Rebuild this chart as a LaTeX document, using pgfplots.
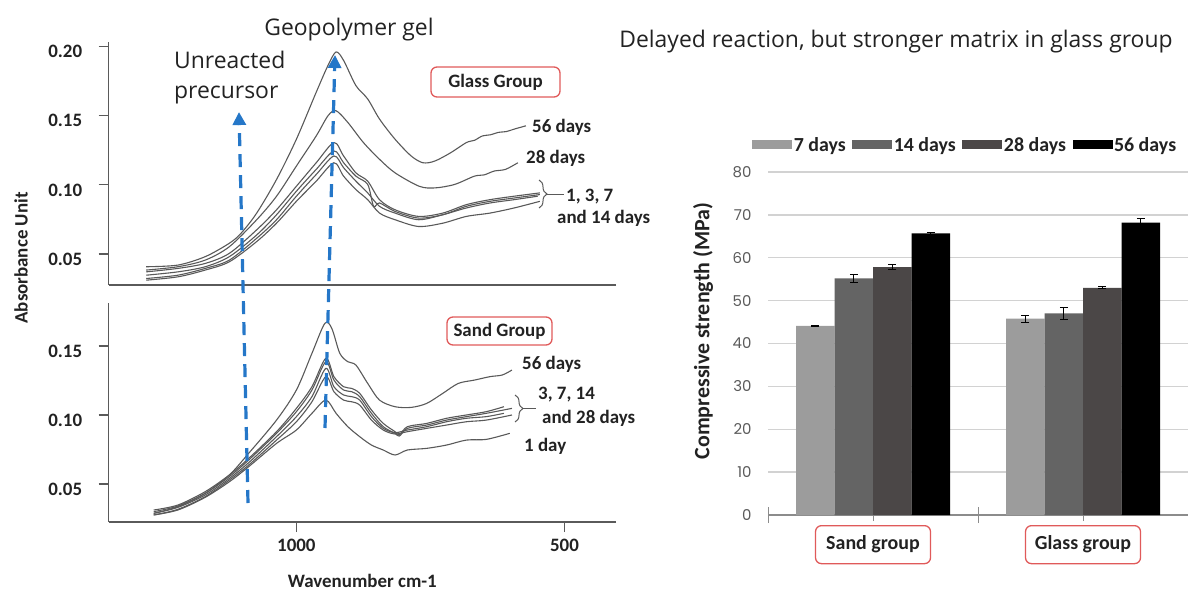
\documentclass[border=0pt]{standalone}
\usepackage{fontspec}
\setmainfont{Open Sans}
\newfontfamily\cb{Carlito}
\newfontfamily\pop{Poppins}
\usepackage{pgfplots}
\usepackage{pgfplotstable}
\pgfplotsset{compat=1.18}
\usetikzlibrary{arrows.meta,decorations.pathreplacing}

\newcommand\fcb[1]{\fontsize{#1}{#1}\selectfont\cb\bfseries}
\newcommand\fos[1]{\fontsize{#1}{#1}\selectfont}

\definecolor{curvegray}{HTML}{595959}
\definecolor{axgray}{HTML}{5A5A5A}
\definecolor{axgray2}{HTML}{8C8C8C}
\definecolor{arrowblue}{HTML}{2577C8}
\definecolor{boxred}{HTML}{E05A5A}
\definecolor{gridgray}{HTML}{D2D2D2}
\definecolor{ticklab}{HTML}{5A5A5A}
\definecolor{bar7}{HTML}{9C9C9C}
\definecolor{bar14}{HTML}{646464}
\definecolor{bar28}{HTML}{4B4747}
\definecolor{txt}{HTML}{222222}

% compressive strength (MPa): 0 = sand group, 1 = glass group
\pgfplotstableread{
x y e
0 44.1 0.2
1 45.8 0.8
}\tseven
\pgfplotstableread{
x y e
0 55.2 1.0
1 47.0 1.3
}\tfourteen
\pgfplotstableread{
x y e
0 57.8 0.6
1 53.0 0.2
}\ttwentyeight
\pgfplotstableread{
x y e
0 65.7 0.2
1 68.2 1.0
}\tfiftysix

\pgfplotsset{
  ftir/.style={
    anchor=south west, scale only axis, width=507.3bp,
    xmin=404, xmax=1350, x dir=reverse,
    axis x line*=bottom, axis y line*=left,
    axis line style={-, draw=axgray, line width=1.5bp},
    tick align=outside, major tick length=10bp,
    tick style={axgray, line width=1.2bp},
    yticklabel style={font=\fcb{19}, text=txt, yshift=-5bp, xshift=-13bp},
    xticklabel style={font=\fcb{19}, text=txt, yshift=-4bp},
    clip=false,
  },
  fc/.style={curvegray, line width=1.1bp, mark=none, line join=round, smooth, tension=0.5},
}

\begin{document}
\begin{tikzpicture}
\useasboundingbox (0,0) rectangle (1198bp,-591bp);

% ---------- FTIR, glass group ----------
\begin{axis}[ftir, at={(108.7bp,-285bp)}, height=243bp,
  ymin=0.0276, ymax=0.2033, xtick=\empty,
  ytick={0.05,0.10,0.15,0.20}, yticklabels={0.05,0.10,0.15,0.20}]
% 56 days
\addplot[fc] coordinates {(1280,0.0408) (1221,0.0420) (1170,0.0481) (1125,0.0578) (1103,0.0651) (1074,0.0796) (1037,0.1039) (1000,0.1330) (963,0.1670) (941,0.1864) (926,0.1961) (912,0.1900) (889,0.1718) (867,0.1621) (845,0.1476) (816,0.1330) (786,0.1209) (764,0.1160) (742,0.1172) (712,0.1233) (683,0.1306) (668,0.1322) (653,0.1354) (638,0.1362) (624,0.1379) (608,0.1386) (594,0.1403) (572,0.1427)};
% 28 days
\addplot[fc] coordinates {(1280,0.0384) (1221,0.0408) (1170,0.0456) (1125,0.0553) (1074,0.0748) (1037,0.0918) (1000,0.1136) (963,0.1354) (941,0.1500) (926,0.1536) (904,0.1451) (875,0.1306) (845,0.1185) (816,0.1087) (771,0.0990) (742,0.0978) (705,0.1003) (668,0.1063) (650,0.1072) (631,0.1100) (610,0.1112) (587,0.1160)};
% 1, 3, 7 and 14 days
\addplot[fc] coordinates {(1280,0.0371) (1221,0.0396) (1170,0.0432) (1125,0.0505) (1074,0.0675) (1037,0.0820) (1000,0.0990) (963,0.1160) (930,0.1306) (912,0.1209) (889,0.1087) (867,0.1027) (845,0.0893) (816,0.0820) (772,0.0772) (727,0.0796) (683,0.0857) (639,0.0893) (594,0.0918) (546,0.0942)};
\addplot[fc] coordinates {(1280,0.0347) (1221,0.0371) (1170,0.0408) (1125,0.0481) (1074,0.0638) (1037,0.0784) (1000,0.0954) (963,0.1112) (930,0.1245) (912,0.1160) (889,0.1063) (867,0.1003) (856,0.0845) (845,0.0869) (816,0.0808) (772,0.0760) (727,0.0784) (683,0.0845) (639,0.0881) (594,0.0905) (546,0.0930)};
\addplot[fc] coordinates {(1280,0.0323) (1221,0.0347) (1170,0.0396) (1125,0.0456) (1074,0.0614) (1037,0.0748) (1000,0.0918) (963,0.1075) (930,0.1209) (912,0.1124) (889,0.1027) (867,0.0942) (845,0.0845) (816,0.0796) (772,0.0748) (727,0.0784) (683,0.0833) (639,0.0869) (594,0.0893) (550,0.0918)};
\addplot[fc] coordinates {(1280,0.0311) (1221,0.0335) (1170,0.0384) (1125,0.0444) (1074,0.0590) (1037,0.0723) (1000,0.0881) (963,0.1027) (930,0.1160) (912,0.1063) (889,0.0966) (867,0.0893) (845,0.0796) (816,0.0748) (772,0.0699) (727,0.0723) (683,0.0772) (639,0.0796) (594,0.0833) (546,0.0881)};
\end{axis}

% ---------- FTIR, sand group ----------
\begin{axis}[ftir, at={(108.7bp,-522bp)}, height=219bp,
  ymin=0.0224, ymax=0.1812,
  xtick={1000,500}, xticklabels={1000,500},
  ytick={0.05,0.10,0.15}, yticklabels={0.05,0.10,0.15},
  xlabel={Wavenumber cm-1},
  xlabel style={font=\fcb{19}, text=txt, at={(axis description cs:0.5,0)}, anchor=center, yshift=-59bp}]
% 56 days
\addplot[fc] coordinates {(1266,0.0287) (1221,0.0335) (1170,0.0432) (1125,0.0565) (1089,0.0722) (1037,0.0963) (1000,0.1181) (971,0.1447) (947,0.1664) (934,0.1628) (919,0.1447) (904,0.1386) (889,0.1362) (867,0.1229) (845,0.1108) (816,0.1060) (786,0.1055) (757,0.1084) (727,0.1157) (698,0.1229) (668,0.1253) (639,0.1278) (616,0.1290) (598,0.1326)};
% 3, 7, 14 and 28 days
\addplot[fc] coordinates {(1266,0.0311) (1221,0.0347) (1170,0.0444) (1125,0.0565) (1089,0.0685) (1037,0.0879) (1000,0.1048) (971,0.1205) (945,0.1411) (930,0.1278) (912,0.1205) (897,0.1193) (882,0.1157) (860,0.1036) (838,0.0939) (816,0.0879) (808,0.0855) (793,0.0915) (757,0.0939) (720,0.0976) (683,0.1000) (646,0.1024) (613,0.1060)};
\addplot[fc] coordinates {(1266,0.0299) (1221,0.0340) (1170,0.0432) (1125,0.0553) (1089,0.0673) (1037,0.0867) (1000,0.1024) (971,0.1181) (945,0.1386) (930,0.1253) (912,0.1181) (897,0.1169) (882,0.1133) (860,0.1012) (838,0.0915) (816,0.0867) (808,0.0847) (793,0.0903) (757,0.0927) (720,0.0963) (683,0.0988) (646,0.1012) (598,0.1048)};
\addplot[fc] coordinates {(1266,0.0287) (1221,0.0330) (1170,0.0420) (1125,0.0540) (1089,0.0654) (1037,0.0843) (1000,0.0988) (971,0.1133) (945,0.1338) (930,0.1205) (912,0.1145) (897,0.1133) (882,0.1108) (860,0.0988) (838,0.0903) (816,0.0872) (793,0.0891) (757,0.0915) (720,0.0951) (683,0.0976) (646,0.0988) (613,0.1012)};
\addplot[fc] coordinates {(1266,0.0275) (1221,0.0316) (1170,0.0408) (1125,0.0528) (1089,0.0637) (1037,0.0818) (1000,0.0951) (971,0.1096) (945,0.1278) (930,0.1169) (912,0.1108) (897,0.1096) (882,0.1072) (860,0.0963) (838,0.0891) (816,0.0862) (793,0.0879) (757,0.0903) (720,0.0927) (683,0.0951) (646,0.0963) (598,0.1000)};
% 1 day
\addplot[fc] coordinates {(1266,0.0275) (1221,0.0311) (1170,0.0403) (1125,0.0516) (1089,0.0625) (1037,0.0794) (1000,0.0891) (971,0.1012) (945,0.1108) (926,0.1012) (904,0.0915) (882,0.0843) (860,0.0782) (838,0.0746) (816,0.0710) (793,0.0746) (757,0.0758) (720,0.0782) (683,0.0818) (646,0.0823) (602,0.0867)};
\end{axis}

% ---------- compressive strength ----------
\begin{axis}[at={(768bp,-515bp)}, anchor=south west, scale only axis,
  width=420bp, height=343bp,
  xmin=-0.5, xmax=1.5, ymin=0, ymax=80,
  ybar=0pt, bar width=38.5bp,
  ytick={0,10,...,80}, yticklabels={0,10,20,30,40,50,60,70,80},
  yticklabel style={font=\pop\fos{15}, text=ticklab, xshift=-5bp},
  ymajorgrids, grid style={gridgray, line width=1.4bp},
  axis x line*=bottom, axis y line*=left,
  x axis line style={-, draw=axgray2, line width=1.5bp},
  y axis line style={draw=none}, ytick style={draw=none},
  xtick={-0.5,0.5}, xticklabels={,},
  xtick style={axgray2, line width=1bp},
  tick align=center, major tick length=16bp,
  extra x ticks={0,1}, extra x tick labels={Sand group,Glass group},
  extra x tick style={tick align=outside, major tick length=6bp,
    xticklabel style={font=\fcb{20}, text=txt, draw=boxred, rounded corners=6bp,
      line width=1.3bp, minimum width=115bp, minimum height=38bp, inner sep=0pt,
      yshift=-4bp}},
  legend columns=4,
  legend style={draw=none, fill=none, at={(axis description cs:-0.038,1.079)},
    anchor=west, font=\fcb{20}, inner sep=0pt, nodes={inner sep=1.5bp, text=txt},
    /tikz/every even column/.append style={column sep=5bp}},
  legend image code/.code={\fill[#1] (0bp,-4.5bp) rectangle (40bp,4.5bp);},
  error bars/error bar style={black, line width=0.9bp},
  error bars/error mark options={black, rotate=90, mark size=4bp, line width=0.9bp},
  ]
\addplot[fill=bar7, draw=none, error bars/.cd, y dir=both, y explicit] table[x=x, y=y, y error=e] {\tseven};
\addplot[fill=bar14, draw=none, error bars/.cd, y dir=both, y explicit] table[x=x, y=y, y error=e] {\tfourteen};
\addplot[fill=bar28, draw=none, error bars/.cd, y dir=both, y explicit] table[x=x, y=y, y error=e] {\ttwentyeight};
\addplot[fill=black, draw=none, error bars/.cd, y dir=both, y explicit] table[x=x, y=y, y error=e] {\tfiftysix};
\legend{7 days, 14 days, 28 days, 56 days}
\end{axis}

% ---------- labels and annotations ----------
\node[rotate=90, font=\fcb{19}, text=txt] at (21bp,-258bp) {Absorbance Unit};
\node[rotate=90, font=\fcb{22}, text=txt] at (703bp,-331bp) {Compressive strength (MPa)};

\node[anchor=base, inner sep=0pt, font=\fos{23}, text=txt] at (349bp,-35bp) {Geopolymer gel};
\node[anchor=base west, inner sep=0pt, font=\fos{23}, text=txt] at (174bp,-68bp) {Unreacted};
\node[anchor=base west, inner sep=0pt, font=\fos{23}, text=txt] at (174bp,-98bp) {precursor};
\node[anchor=base, inner sep=0pt, font=\fos{23}, text=txt] at (896bp,-47bp) {Delayed reaction, but stronger matrix in glass group};

\node[draw=boxred, rounded corners=6bp, line width=1.3bp, minimum width=129bp, minimum height=30bp, inner sep=0pt, font=\fcb{19}, text=txt] at (495.5bp,-82bp) {Glass Group};
\node[draw=boxred, rounded corners=6bp, line width=1.3bp, minimum width=105bp, minimum height=28bp, inner sep=0pt, font=\fcb{19}, text=txt] at (499.5bp,-331bp) {Sand Group};

\begin{scope}[every node/.style={anchor=base west, inner sep=0pt, font=\fcb{19}, text=txt}]
\node at (532bp,-132bp) {56 days};
\node at (526bp,-163bp) {28 days};
\node at (566bp,-201bp) {1, 3, 7};
\node at (557bp,-223bp) {and 14 days};
\node at (522bp,-369bp) {56 days};
\node at (538bp,-399bp) {3, 7, 14};
\node at (542bp,-423bp) {and 28 days};
\node at (524bp,-451bp) {1 day};
\end{scope}

\draw[curvegray, line width=1bp, decorate, decoration={brace, amplitude=8bp}] (539bp,-180bp) -- (539bp,-208bp);
\draw[curvegray, line width=1bp] (547bp,-194bp) -- (564bp,-194bp);
\draw[curvegray, line width=1bp, decorate, decoration={brace, amplitude=8bp}] (515bp,-395bp) -- (515bp,-422bp);
\draw[curvegray, line width=1bp] (523bp,-408.5bp) -- (536bp,-408.5bp);

\draw[arrowblue, line width=3.2bp, dash pattern=on 13bp off 8bp, -{Triangle[length=13bp, width=13bp]}] (248bp,-503bp) -- (239bp,-112bp);
\draw[arrowblue, line width=3.2bp, dash pattern=on 13bp off 8bp, -{Triangle[length=13bp, width=13bp]}] (325bp,-428bp) -- (335bp,-55bp);
\end{tikzpicture}
\end{document}
